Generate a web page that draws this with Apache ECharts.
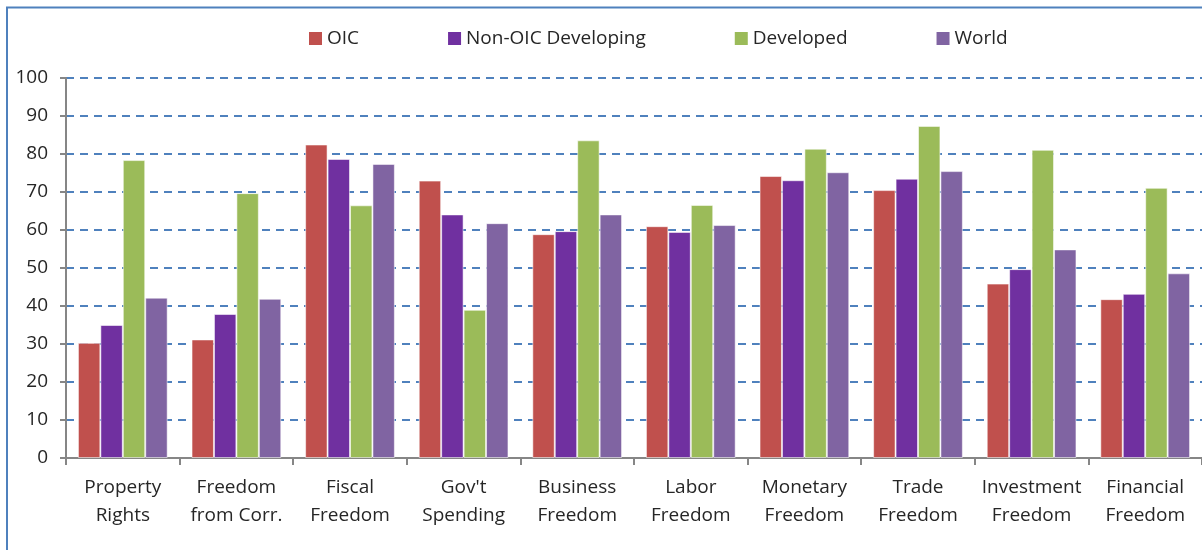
<!DOCTYPE html>
<html>
<head>
<meta charset="utf-8">
<script src="https://cdn.jsdelivr.net/npm/echarts@6/dist/echarts.min.js"></script>
<style>
  html, body { margin: 0; padding: 0; background: #fff; }
  #chart { width: 1202px; height: 550px; }
</style>
</head>
<body>
<div id="chart"></div>
<script>
// Economic freedom component scores by country group
const categories = [
  'Property\nRights', 'Freedom\nfrom Corr.', 'Fiscal\nFreedom', "Gov't\nSpending",
  'Business\nFreedom', 'Labor\nFreedom', 'Monetary\nFreedom', 'Trade\nFreedom',
  'Investment\nFreedom', 'Financial\nFreedom'
];
const oic          = [30.3, 31.2, 82.5, 73.0, 58.9, 61.0, 74.2, 70.5, 45.9, 41.8];
const nonOicDev    = [35.0, 37.9, 78.7, 64.1, 59.7, 59.5, 73.1, 73.5, 49.7, 43.2];
const developed    = [78.4, 69.7, 66.5, 39.0, 83.6, 66.6, 81.4, 87.4, 81.1, 71.1];
const world        = [42.2, 41.9, 77.4, 61.8, 64.1, 61.3, 75.2, 75.5, 54.9, 48.6];
const seriesNames  = ['OIC', 'Non-OIC Developing', 'Developed', 'World'];
const seriesColors = ['#C0504D', '#7030A0', '#9BBB59', '#8064A2'];
const seriesData   = [oic, nonOicDev, developed, world];

const font = '"Open Sans", sans-serif';
const chart = echarts.init(document.getElementById('chart'), null, { renderer: 'canvas' });

chart.setOption({
  animation: false,
  backgroundColor: '#ffffff',
  textStyle: { fontFamily: font },
  graphic: [{
    type: 'rect',
    shape: { x: 7, y: 7.5, width: 1400, height: 700 },
    style: { fill: 'none', stroke: '#4F81BD', lineWidth: 2 },
    silent: true
  }],
  legend: {
    left: 304,
    top: 24,
    itemWidth: 13,
    itemHeight: 13,
    itemGap: 89,
    icon: 'rect',
    itemStyle: { borderWidth: 0 },
    textStyle: { fontFamily: font, fontSize: 19, color: '#262626' },
    data: seriesNames
  },
  grid: { left: 66, top: 78, width: 1140, height: 380, containLabel: false },
  xAxis: {
    type: 'category',
    data: categories,
    axisLine: { lineStyle: { color: '#868686', width: 2 } },
    axisTick: { show: true, length: 7, lineStyle: { color: '#868686', width: 2 } },
    axisLabel: {
      fontFamily: font, fontSize: 19, color: '#262626',
      lineHeight: 28, margin: 16, interval: 0
    },
    splitLine: { show: false }
  },
  yAxis: {
    type: 'value',
    min: 0, max: 100, interval: 10,
    axisLine: { show: true, lineStyle: { color: '#868686', width: 2 } },
    axisTick: { show: true, length: 6, lineStyle: { color: '#868686', width: 2 } },
    axisLabel: { fontFamily: font, fontSize: 19, color: '#262626', margin: 18 },
    splitLine: { lineStyle: { color: '#4F81BD', type: [8, 6], width: 2 } }
  },
  series: seriesNames.map((name, i) => ({
    name: name,
    type: 'bar',
    data: seriesData[i],
    barGap: '0%',
    barCategoryGap: '21%',
    itemStyle: {
      color: seriesColors[i],
      borderColor: 'rgba(255,255,255,0.55)',
      borderWidth: 1
    }
  }))
});
</script>
</body>
</html>
